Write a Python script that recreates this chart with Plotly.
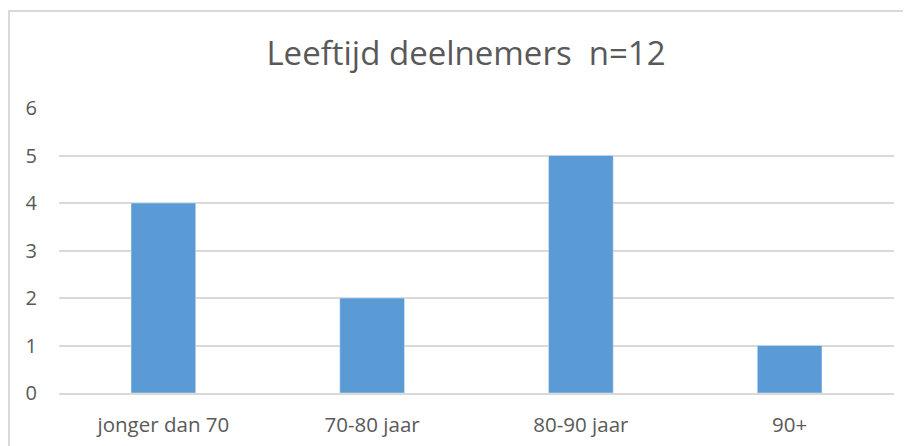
import plotly.graph_objects as go

# leeftijdsgroepen en aantallen deelnemers
categories = ["jonger dan 70", "70-80 jaar", "80-90 jaar", "90+"]
counts = [4, 2, 5, 1]
y_ticks = [0, 1, 2, 3, 4, 5, 6]

TEXT = "#595959"
GRID = "#D9D9D9"
FONT = "Open Sans, sans-serif"

# the page body adds an 8px offset, so margins are shifted to compensate
L, T, PW, PH = 51, 100, 835, 285

fig = go.Figure()
fig.add_trace(go.Bar(x=categories, y=counts, marker_color="#5B9BD5", width=0.31))

fig.update_layout(
    width=911, height=446,
    margin=dict(l=L, r=911 - L - PW, t=T, b=446 - T - PH),
    paper_bgcolor="white", plot_bgcolor="white",
    showlegend=False,
    font=dict(family=FONT, color=TEXT, size=20),
    title=dict(text="Leeftijd deelnemers  n=12", x=(466 - 8) / 911, xanchor="center",
               y=1 - 45 / 446, yanchor="middle",
               font=dict(family=FONT, size=33, color=TEXT)),
)
fig.update_yaxes(range=[0, 6], tickvals=y_ticks, showgrid=True, gridcolor=GRID,
                 gridwidth=1.6, zeroline=False, showline=False, ticks="",
                 ticklabelstandoff=21, tickfont=dict(size=20, color=TEXT))
fig.update_xaxes(showline=True, linecolor=GRID, linewidth=1.6, ticks="",
                 tickfont=dict(size=20.5, color=TEXT), ticklabelstandoff=13)

# chart border (rechter- en onderkant vallen buiten beeld)
fig.add_shape(type="rect", xref="paper", yref="paper",
              x0=(1 - L) / PW, x1=1.1, y0=-0.4, y1=(T + PH - 3) / PH,
              line=dict(color=GRID, width=2), fillcolor="rgba(0,0,0,0)", layer="below")

fig.write_html("out.html")
